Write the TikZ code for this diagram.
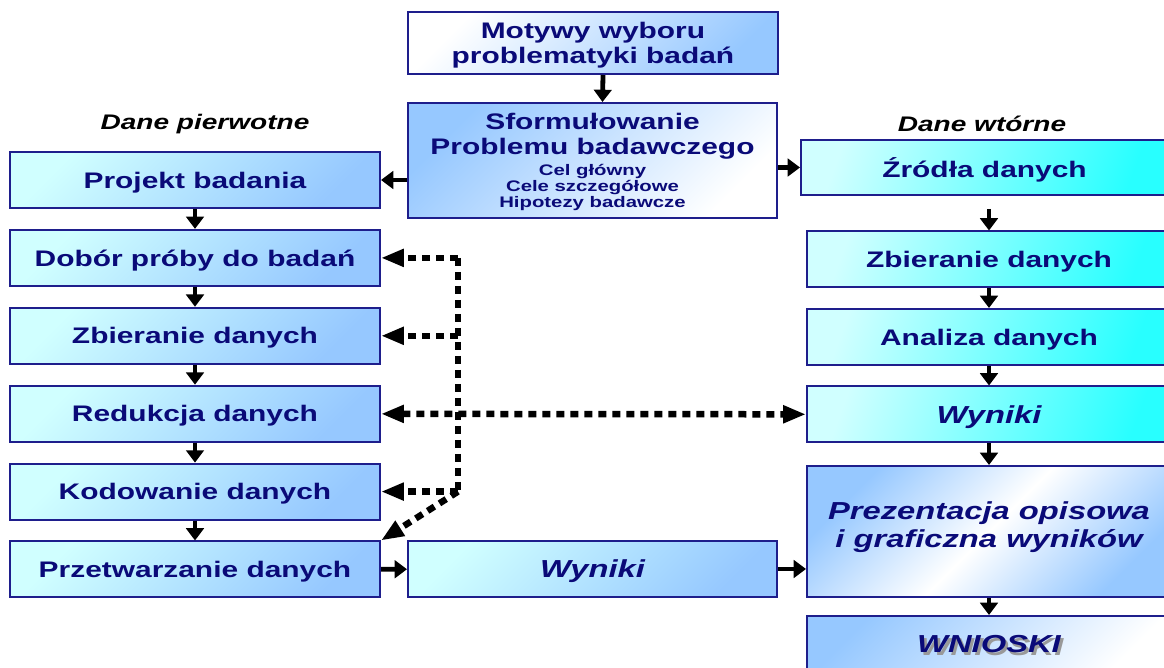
\documentclass[tikz,border=0pt]{standalone}
\usepackage{fontspec}
\setmainfont{Liberation Sans}[FakeStretch=1.33]
\usetikzlibrary{arrows.meta}
\newlength{\pxl}\setlength{\pxl}{0.02cm}
\definecolor{granat}{RGB}{10,10,120}
\definecolor{ramka}{RGB}{30,30,140}
\definecolor{jcyjan}{RGB}{208,255,255}
\definecolor{jniebieski}{RGB}{150,200,255}
\definecolor{cyjan}{RGB}{40,255,255}
\newcommand\drobne{\fontsize{8.7}{9.1}\selectfont}
\newcommand\cien[1]{\makebox[0pt][l]{\hspace{1.5pt}\raisebox{-1.5pt}{\color{black!40}#1}}#1}

\begin{document}
\begin{tikzpicture}[x=\pxl,y=-\pxl,
    box/.style={draw=ramka,line width=2\pxl,minimum width=370\pxl,minimum height=56\pxl,inner sep=0pt,text depth=0pt,
      align=center,text=granat,font=\fontsize{12.8}{14.2}\selectfont\bfseries},
    lewy/.style={box,top color=jcyjan,bottom color=jniebieski,shading angle=45},
    prawy/.style={box,minimum width=364\pxl,left color=jcyjan,right color=cyjan,shading angle=70},
    wyn/.style={font=\fontsize{14}{16}\selectfont\bfseries\itshape},
    arr/.style={line width=4.8\pxl,-{Triangle[length=7pt,width=10pt]}},
    kropki/.style={line width=6.5\pxl,dash pattern=on 8\pxl off 6\pxl,-{Triangle[length=13pt,width=9.5pt]}}]
  \useasboundingbox (0,0) rectangle (1164,668);
  \clip (0,0) rectangle (1164,668);
  % srodek
  \node[box,minimum height=62\pxl,top color=white,bottom color=jniebieski,shading angle=45] (motywy) at (593,43)
    {Motywy wyboru\\problematyki badań};
  \node[box,minimum width=369\pxl,minimum height=115\pxl,top color=jniebieski,bottom color=white,shading angle=45] (problem) at (592.5,160.5)
    {Sformułowanie\\Problemu badawczego\\[-2.3pt]\drobne Cel główny\\[-5pt]\drobne Cele szczegółowe\\[-5pt]\drobne Hipotezy badawcze};
  \node[lewy,wyn,minimum width=369\pxl] (wynikiM) at (592.5,569) {Wyniki};
  % dane pierwotne
  \node[font=\fontsize{12}{14}\selectfont\bfseries\itshape] (pierwotne) at (205,124) {Dane pierwotne};
  \foreach \nm/\txt [count=\i from 0] in {proj/Projekt badania,dobor/Dobór próby do badań,zbierL/Zbieranie danych,
      redukcja/Redukcja danych,kodowanie/Kodowanie danych,przetw/Przetwarzanie danych}
    \node[lewy] (\nm) at (195,180+77.9*\i) {\txt};
  % dane wtorne
  \node[font=\fontsize{12}{14}\selectfont\bfseries\itshape] (wtorne) at (982,124) {Dane wtórne};
  \node[prawy,minimum width=367\pxl,minimum height=55\pxl] (zrodla) at (984.5,167.5) {Źródła danych};
  \foreach \nm/\txt/\y in {zbierP/Zbieranie danych/259.5,analiza/Analiza danych/337}
    \node[prawy] (\nm) at (989,\y) {\txt};
  \node[prawy,wyn] (wynikiP) at (989,414.5) {Wyniki};
  \node[box,wyn,minimum width=364\pxl,minimum height=131\pxl,text depth=14\pxl,top color=jniebieski,bottom color=jniebieski,middle color=white,shading angle=45]
    (prezentacja) at (989,531.5) {Prezentacja opisowa\\i graficzna wyników};
  \node[box,wyn,minimum width=364\pxl,top color=jniebieski,bottom color=white,shading angle=45] (wnioski) at (989,644) {\cien{WNIOSKI}};
  % strzalki
  \draw[arr] ([xshift=10\pxl]motywy.south) -- ([xshift=10\pxl]problem.north);
  \draw[arr] (problem.west |- proj) -- (proj.east);
  \draw[arr] (problem.east |- zrodla) -- (zrodla.west);
  \draw[arr,shorten <=13\pxl] (zrodla.south -| zbierP) -- (zbierP);
  \foreach \a/\b in {proj/dobor,dobor/zbierL,zbierL/redukcja,redukcja/kodowanie,kodowanie/przetw,
      zbierP/analiza,analiza/wynikiP,wynikiP/prezentacja,prezentacja/wnioski,przetw/wynikiM}
    \draw[arr] (\a) -- (\b);
  \draw[arr] (wynikiM) -- (prezentacja.west |- wynikiM);
  % kropkowane
  \path (dobor.east) ++(77,0) coordinate (gora);
  \path (kodowanie.east) ++(77,0) coordinate (dol);
  \draw[kropki,-] (gora) -- (dol);
  \foreach \nm in {dobor,zbierL,kodowanie}
    \draw[kropki] (\nm.east -| gora) -- (\nm.east);
  \draw[kropki] (dol) -- (przetw.north east);
  \draw[kropki,{Triangle[length=13pt,width=9.5pt]}-{Triangle[length=13pt,width=9.5pt]}] (redukcja) -- (wynikiP);
\end{tikzpicture}
\end{document}
